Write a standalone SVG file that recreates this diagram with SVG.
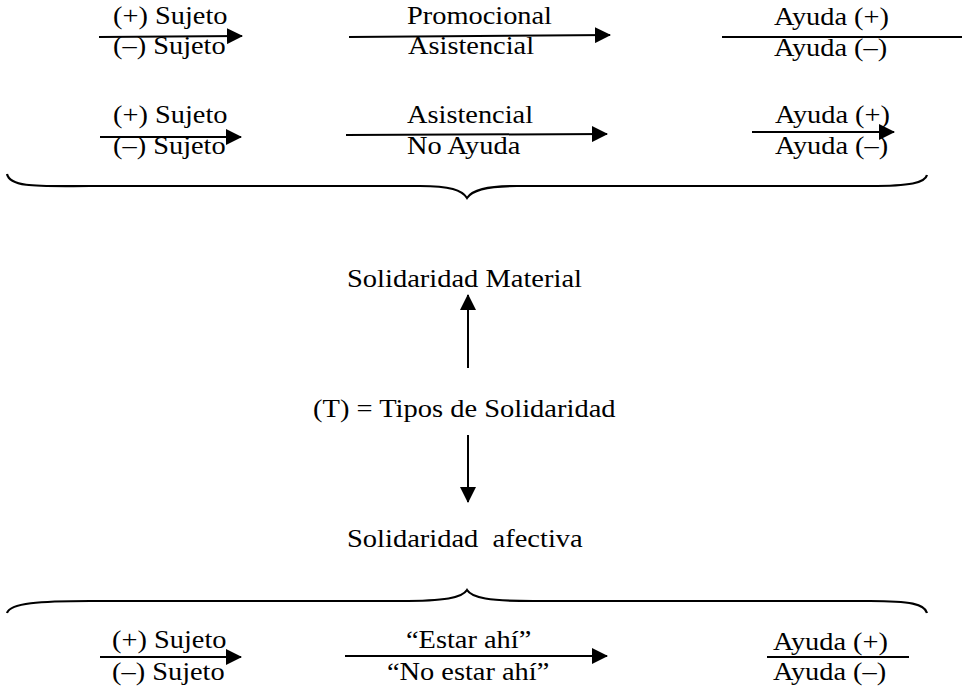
<svg xmlns="http://www.w3.org/2000/svg" width="966" height="690" viewBox="0 0 966 690">
<defs>
<style>
text{font-family:"Liberation Serif","Times New Roman",serif;font-size:25px;fill:#000;white-space:pre}
.ln{stroke:#000;stroke-width:2;fill:none}
.br{stroke:#000;stroke-width:2.2;fill:none}
</style>
<marker id="ah" viewBox="0 0 16 16" refX="15" refY="8" markerWidth="16" markerHeight="16" markerUnits="userSpaceOnUse" orient="auto">
<path d="M0,0 L16,8 L0,16 Z" fill="#000"/>
</marker>
</defs>
<rect width="966" height="690" fill="#fff"/>

<g id="connectors">
<line class="ln" x1="99" y1="37" x2="242" y2="36" marker-end="url(#ah)"/>
<line class="ln" x1="349" y1="37" x2="610" y2="35" marker-end="url(#ah)"/>
<line class="ln" x1="722" y1="37" x2="962" y2="37"/>
<line class="ln" x1="100" y1="137" x2="241" y2="137" marker-end="url(#ah)"/>
<line class="ln" x1="346" y1="135" x2="607" y2="134" marker-end="url(#ah)"/>
<line class="ln" x1="752" y1="132" x2="894" y2="132" marker-end="url(#ah)"/>
<line class="ln" x1="468" y1="368" x2="468" y2="295" marker-end="url(#ah)"/>
<line class="ln" x1="468" y1="435" x2="468" y2="502" marker-end="url(#ah)"/>
<line class="ln" x1="100" y1="657" x2="241" y2="657" marker-end="url(#ah)"/>
<line class="ln" x1="345" y1="656" x2="607" y2="656" marker-end="url(#ah)"/>
<line class="ln" x1="767" y1="657" x2="909" y2="657"/>
<path class="br" d="M7,174 C10,188 40,186 90,186 L420,186 C450,186 462,190 467,198 C472,190 486,186 517,186 L870,186 C910,186 925,183 927,175"/>
<path class="br" d="M7,613 C10,603 40,601 90,601 L400,601 C445,601 462,598 467,590 C472,598 489,601 533,601 L870,601 C910,601 925,604 927,613"/>
</g>

<g id="row1-sujeto">
<text transform="translate(113,24) scale(1.135,1)">(+) Sujeto</text>
<text transform="translate(113,54) scale(1.135,1)">(–) Sujeto</text>
</g>
<g id="row1-tipo">
<text transform="translate(407,24) scale(1.135,1)">Promocional</text>
<text transform="translate(408,54) scale(1.135,1)">Asistencial</text>
</g>
<g id="row1-ayuda">
<text transform="translate(774,25) scale(1.135,1)">Ayuda (+)</text>
<text transform="translate(774,56) scale(1.135,1)">Ayuda (–)</text>
</g>

<g id="row2-sujeto">
<text transform="translate(113,123) scale(1.135,1)">(+) Sujeto</text>
<text transform="translate(113,154) scale(1.135,1)">(–) Sujeto</text>
</g>
<g id="row2-tipo">
<text transform="translate(407,123) scale(1.135,1)">Asistencial</text>
<text transform="translate(407,154) scale(1.135,1)">No Ayuda</text>
</g>
<g id="row2-ayuda">
<text transform="translate(775,123) scale(1.135,1)">Ayuda (+)</text>
<text transform="translate(775,154) scale(1.135,1)">Ayuda (–)</text>
</g>

<g id="solidaridad-material">
<text transform="translate(347,287) scale(1.14,1)">Solidaridad Material</text>
</g>
<g id="tipos">
<text transform="translate(313,417) scale(1.14,1)">(T) = Tipos de Solidaridad</text>
</g>
<g id="solidaridad-afectiva">
<text transform="translate(347,547) scale(1.14,1)">Solidaridad  afectiva</text>
</g>

<g id="row3-sujeto">
<text transform="translate(112,648) scale(1.135,1)">(+) Sujeto</text>
<text transform="translate(112,680) scale(1.135,1)">(–) Sujeto</text>
</g>
<g id="row3-estar">
<text transform="translate(406,648) scale(1.135,1)">“Estar ahí”</text>
<text transform="translate(387,680) scale(1.135,1)">“No estar ahí”</text>
</g>
<g id="row3-ayuda">
<text transform="translate(773,650) scale(1.135,1)">Ayuda (+)</text>
<text transform="translate(773,680) scale(1.135,1)">Ayuda (–)</text>
</g>
</svg>
